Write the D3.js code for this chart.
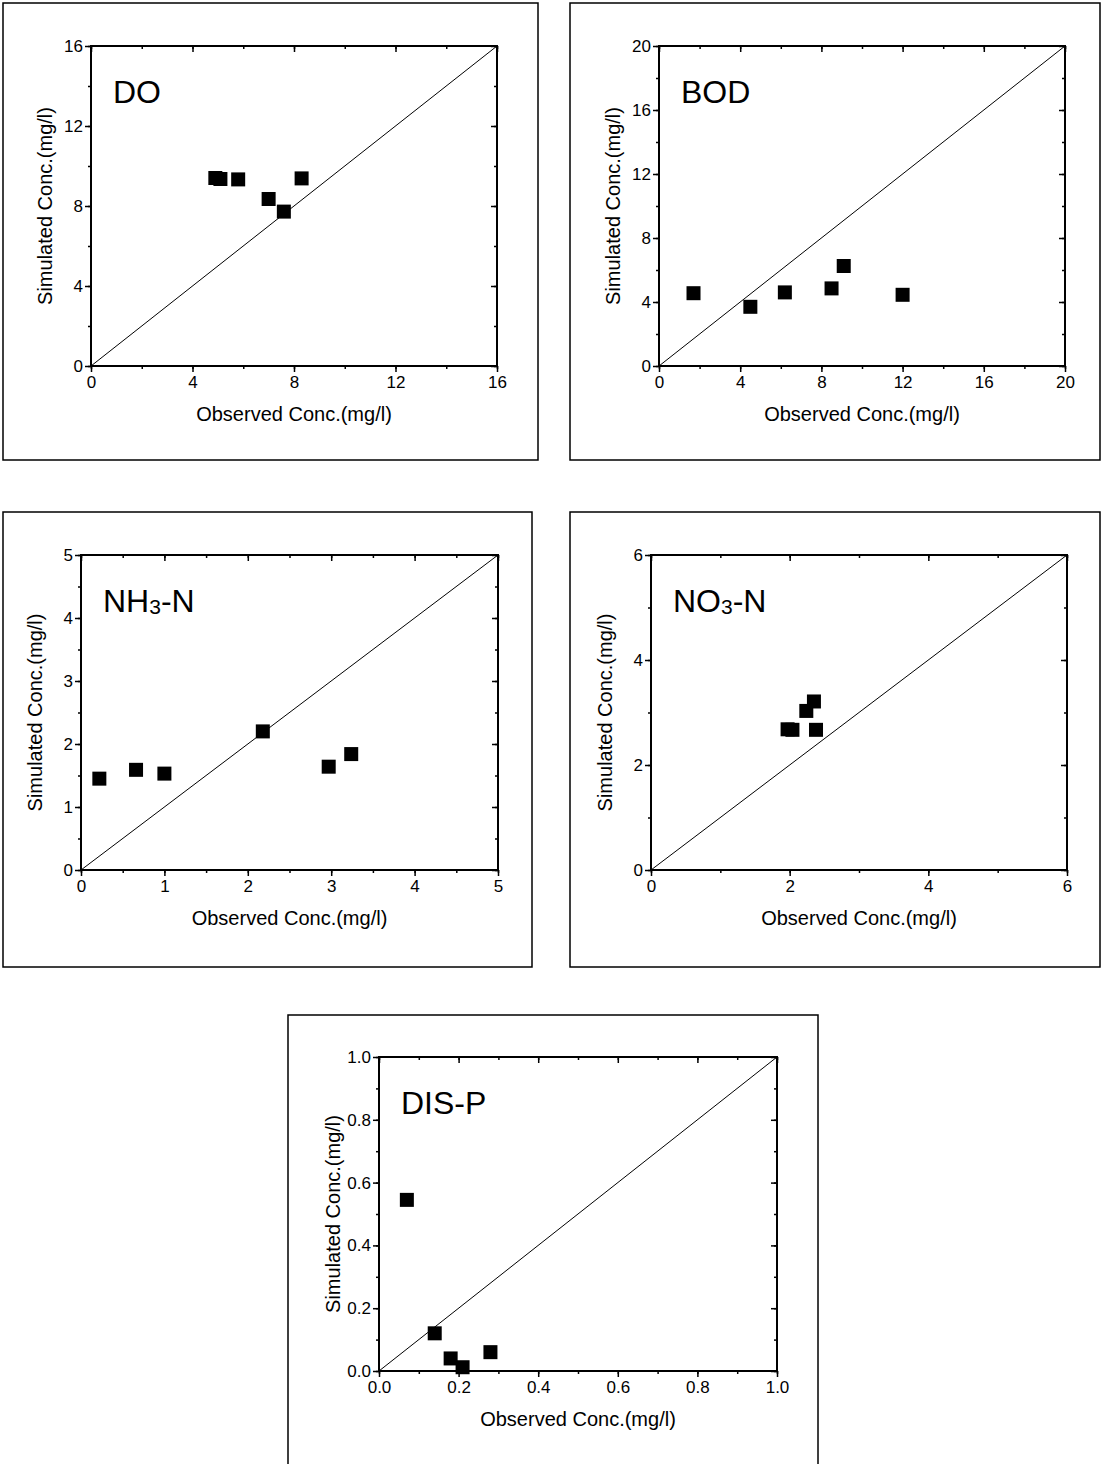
<!DOCTYPE html>
<html>
<head>
<meta charset="utf-8">
<script src="https://cdn.jsdelivr.net/npm/d3@7"></script>
<style>
  body { margin: 0; background: #fff; }
  svg text { font-family: "Liberation Sans", Arial, sans-serif; }
</style>
</head>
<body>
<div id="chart"></div>
<script>
// Observed vs simulated concentrations (mg/l)
const doObs = [4.9, 5.1, 5.8, 7.0, 7.6, 8.3];
const doSim = [9.4, 9.35, 9.33, 8.35, 7.72, 9.38];

const bodObs = [1.7, 4.5, 6.2, 8.5, 9.1, 12.0];
const bodSim = [4.55, 3.7, 4.6, 4.85, 6.25, 4.45];

const nh3Obs = [0.22, 0.66, 1.0, 2.18, 2.97, 3.24];
const nh3Sim = [1.45, 1.59, 1.53, 2.2, 1.64, 1.84];

const no3Obs = [1.97, 2.04, 2.24, 2.35, 2.38];
const no3Sim = [2.68, 2.67, 3.03, 3.21, 2.67];

const dispObs = [0.07, 0.14, 0.18, 0.21, 0.28];
const dispSim = [0.545, 0.12, 0.04, 0.012, 0.06];

// axis maxima and tick steps
const axisMax = [16, 20, 5, 6, 1.0];
const majorStep = [4, 4, 1, 2, 0.2];
const minorStep = [2, 2, 0.5, 1, 0.1];

const titles = ['DO', 'BOD', 'NH3-N', 'NO3-N', 'DIS-P'];

const W = 1105, H = 1464;
const svg = d3.select('#chart').append('svg')
    .attr('width', W)
    .attr('height', H);

// frame box + plot rectangle for each panel
const panels = [
    { box: [3, 3, 535, 457], plot: [91, 46, 406, 320], obs: doObs, sim: doSim },
    { box: [570, 3, 530, 457], plot: [659, 46, 406, 320], obs: bodObs, sim: bodSim },
    { box: [3, 512, 529, 455], plot: [81, 555, 417, 315], obs: nh3Obs, sim: nh3Sim },
    { box: [570, 512, 530, 455], plot: [651, 555, 416, 315], obs: no3Obs, sim: no3Sim },
    { box: [288, 1015, 530, 470], plot: [379, 1057, 398, 314], obs: dispObs, sim: dispSim }
];

function tickValues(max, step) {
    const n = Math.round(max / step);
    return d3.range(n + 1).map(i => +(i * step).toFixed(6));
}

panels.forEach((p, i) => {
    // outer frame
    svg.append('rect')
        .attr('x', p.box[0]).attr('y', p.box[1])
        .attr('width', p.box[2]).attr('height', p.box[3])
        .attr('fill', 'none')
        .attr('stroke', '#000')
        .attr('stroke-width', 1.5);

    const [px, py, pw, ph] = p.plot;
    const g = svg.append('g').attr('transform', `translate(${px},${py})`);

    const x = d3.scaleLinear().domain([0, axisMax[i]]).range([0, pw]);
    const y = d3.scaleLinear().domain([0, axisMax[i]]).range([ph, 0]);

    const major = tickValues(axisMax[i], majorStep[i]);
    const minor = tickValues(axisMax[i], minorStep[i]);
    const fmt = axisMax[i] <= 1 ? d3.format('.1f') : d3.format('d');

    // minor ticks first, then major ticks with labels
    g.append('g').attr('transform', `translate(0,${ph})`)
        .call(d3.axisBottom(x).tickValues(minor).tickSize(3).tickFormat(''));
    g.append('g')
        .call(d3.axisLeft(y).tickValues(minor).tickSize(3).tickFormat(''));
    g.append('g').call(d3.axisTop(x).tickValues(minor).tickSize(-3).tickFormat(''));
    g.append('g').attr('transform', `translate(${pw},0)`)
        .call(d3.axisRight(y).tickValues(minor).tickSize(-3).tickFormat(''));

    g.append('g').attr('transform', `translate(0,${ph})`)
        .call(d3.axisBottom(x).tickValues(major).tickSize(6).tickPadding(4).tickFormat(fmt));
    g.append('g')
        .call(d3.axisLeft(y).tickValues(major).tickSize(6).tickPadding(2).tickFormat(fmt));
    g.append('g').call(d3.axisTop(x).tickValues(major).tickSize(-6).tickFormat(''));
    g.append('g').attr('transform', `translate(${pw},0)`)
        .call(d3.axisRight(y).tickValues(major).tickSize(-6).tickFormat(''));

    g.selectAll('.domain').remove();
    g.selectAll('.tick line').attr('stroke', '#000').attr('stroke-width', 1.5);
    g.selectAll('.tick text')
        .attr('fill', '#000')
        .style('font-family', '"Liberation Sans", Arial, sans-serif')
        .style('font-size', '17px');

    // plot frame
    g.append('rect')
        .attr('width', pw).attr('height', ph)
        .attr('fill', 'none')
        .attr('stroke', '#000')
        .attr('stroke-width', 2);

    // 1:1 line
    g.append('line')
        .attr('x1', x(0)).attr('y1', y(0))
        .attr('x2', x(axisMax[i])).attr('y2', y(axisMax[i]))
        .attr('stroke', '#000')
        .attr('stroke-width', 1);

    // data points
    const pts = p.obs.map((v, k) => ({ o: v, s: p.sim[k] }));
    g.selectAll('rect.pt')
        .data(pts)
        .enter()
        .append('rect')
        .attr('class', 'pt')
        .attr('x', d => x(d.o) - 7)
        .attr('y', d => y(d.s) - 7)
        .attr('width', 14)
        .attr('height', 14)
        .attr('fill', '#000');

    // axis titles
    g.append('text')
        .attr('x', pw / 2)
        .attr('y', ph + 55)
        .attr('text-anchor', 'middle')
        .style('font-size', '20px')
        .text('Observed Conc.(mg/l)');

    g.append('text')
        .attr('transform', `translate(-39,${ph / 2}) rotate(-90)`)
        .attr('text-anchor', 'middle')
        .style('font-size', '20px')
        .text('Simulated Conc.(mg/l)');

    // panel label, with subscript for the nitrogen species
    const label = g.append('text')
        .attr('x', 22)
        .attr('y', 57)
        .style('font-size', '32px');
    const m = titles[i].match(/^(NH|NO)(3)(-N)$/);
    if (m) {
        label.append('tspan').text(m[1]);
        label.append('tspan').style('font-size', '21px').attr('dy', 2).text(m[2]);
        label.append('tspan').attr('dy', -2).text(m[3]);
    } else {
        label.text(titles[i]);
    }
});
</script>
</body>
</html>
